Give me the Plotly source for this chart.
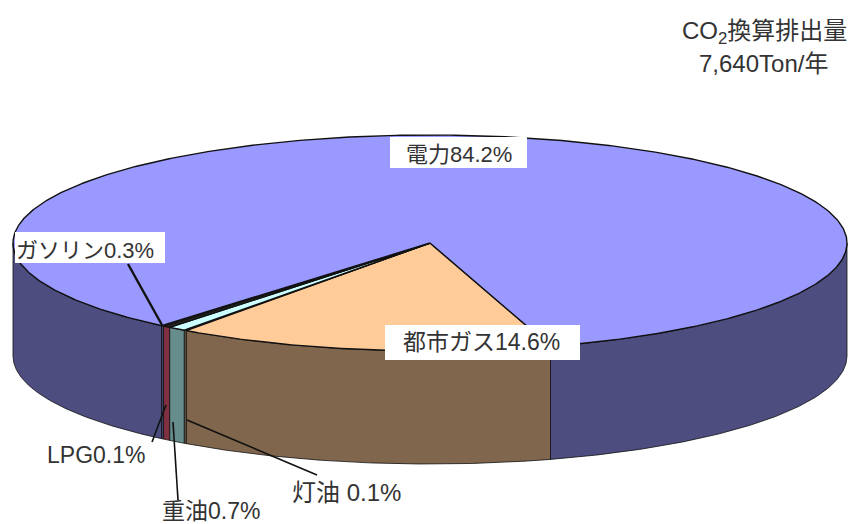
import numpy as np
import plotly.graph_objects as go

# Data (percent), in clockwise drawing order from the start angle
categories = ["都市ガス", "灯油", "重油", "ガソリン", "LPG", "電力"]
shares = [14.6, 0.1, 0.7, 0.3, 0.1, 84.2]
top_colors = ["#ffcc99", "#222222", "#ccffff", "#222222", "#111133", "#9999ff"]
side_colors = ["#80664d", "#6b5a45", "#668c8c", "#803040", "#40406a", "#4d4d80"]

title_lines = ["CO<sub>2</sub>換算排出量", "7,640Ton/年"]
labels = ["電力84.2%", "都市ガス14.6%", "ガソリン0.3%", "LPG0.1%", "重油0.7%", "灯油 0.1%"]

CX, CY, RX, RY, DEPTH = 430, 243, 417, 108, 113
START_DEG = 73.2
FONT = "Liberation Sans, Noto Sans CJK JP, sans-serif"

fig = go.Figure()
fractions = np.array(shares) / sum(shares)
edges = START_DEG + 360 * np.concatenate([[0], np.cumsum(fractions)])


def rim(t_deg, drop=0):
    t = np.radians(t_deg)
    return CX + RX * np.cos(t), CY + RY * np.sin(t) + drop


def add_poly(x, y, fill, line_w=1.0, line_col="#111111"):
    fig.add_trace(go.Scatter(x=x, y=y, mode="lines", fill="toself", fillcolor=fill,
                             line=dict(color=line_col, width=line_w),
                             hoverinfo="skip", showlegend=False))


# Visible side walls (front half of the ellipse), drawn first
for a, b, c in zip(edges[:-1], edges[1:], side_colors):
    for lo, hi in ((a, b), (a - 360, b - 360)):
        l, h = max(lo, 0), min(hi, 180)
        if l >= h:
            continue
        t = np.linspace(l, h, 160)
        xt, yt = rim(t)
        xb, yb = rim(t[::-1], DEPTH)
        add_poly(np.r_[xt, xb, xt[0]], np.r_[yt, yb, yt[0]], c, 0.8)

# Top faces
for a, b, c in zip(edges[:-1], edges[1:], top_colors):
    t = np.linspace(a, b, max(int(b - a) * 2, 4))
    xt, yt = rim(t)
    add_poly(np.r_[CX, xt, CX], np.r_[CY, yt, CY], c, 1.4)

# White label boxes
boxes = [(390, 137, 527, 168), (385, 325, 580, 360), (15, 232, 165, 263)]
shapes = [dict(type="rect", x0=b[0], y0=b[1], x1=b[2], y1=b[3], fillcolor="white",
               line=dict(width=0), layer="above") for b in boxes]

# Leader lines
leaders = [((128, 264), (162, 325), 2.4), ((152, 442), (166, 405), 1.6),
           ((178, 500), (173, 422), 1.6), ((317, 475), (187, 420), 1.6)]
for p0, p1, w in leaders:
    shapes.append(dict(type="line", x0=p0[0], y0=p0[1], x1=p1[0], y1=p1[1],
                       line=dict(color="#111111", width=w), layer="above"))

# Text
ann = []
for txt, x, y, s in [(title_lines[0], 764, 32, 24), (title_lines[1], 763, 63, 24),
                     (labels[0], 459, 154, 22), (labels[1], 481, 342, 23), (labels[2], 85, 250, 22),
                     (labels[3], 96, 455, 23), (labels[4], 211, 511, 23), (labels[5], 346, 492, 24)]:
    ann.append(dict(x=x, y=y, text=txt, showarrow=False, xanchor="center", yanchor="middle",
                    font=dict(family=FONT, size=s, color="#333333")))

fig.update_layout(
    width=855, height=524, margin=dict(l=0, r=0, t=0, b=0),
    paper_bgcolor="white", plot_bgcolor="white", showlegend=False,
    xaxis=dict(range=[0, 855], visible=False, fixedrange=True),
    yaxis=dict(range=[524, 0], visible=False, fixedrange=True),
    shapes=shapes, annotations=ann,
)
fig.write_html("out.html", config=dict(displayModeBar=False),
               post_script="document.body.style.margin='0';document.documentElement.style.overflow='hidden';")
